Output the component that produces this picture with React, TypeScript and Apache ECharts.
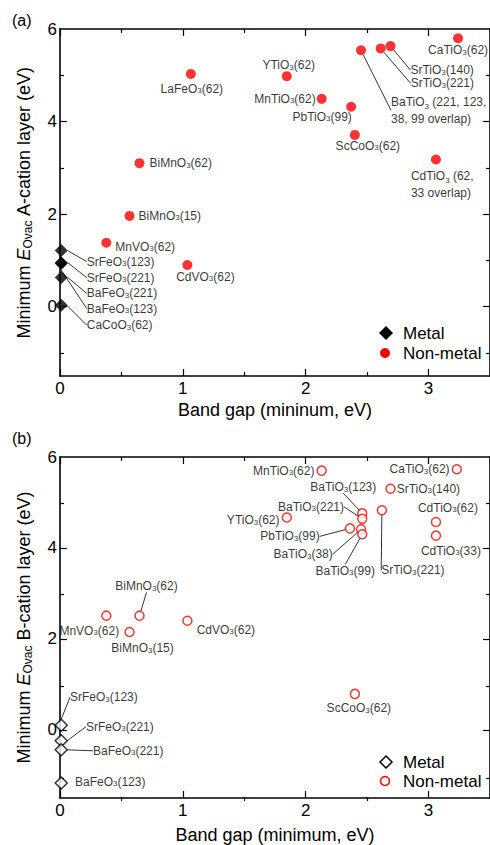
import React, { useEffect, useRef } from 'react';
import * as echarts from 'echarts';

const FONT = 'Liberation Sans, Arial, sans-serif';
const LFONT = 'Liberation Sans, Arial, sans-serif';

// ---------- Panel (a): A-cation layer ----------
const aMetalNames = ['SrFeO3(123)', 'SrFeO3(221)', 'BaFeO3(221)', 'BaFeO3(123)', 'CaCoO3(62)'];
const aMetalGap = [0.01, 0.01, 0.01, 0.01, 0.01];
const aMetalE = [1.21, 0.95, 0.63, 0.93, 0.03];

const aNonNames = [
  'LaFeO3(62)', 'BiMnO3(62)', 'BiMnO3(15)', 'MnVO3(62)', 'CdVO3(62)', 'YTiO3(62)', 'MnTiO3(62)',
  'PbTiO3(99)', 'ScCoO3(62)', 'BaTiO3 (221, 123,\n38, 99 overlap)', 'SrTiO3(221)', 'SrTiO3(140)',
  'CaTiO3(62)', 'CdTiO3 (62,\n33 overlap)',
];
const aNonGap = [1.065, 0.647, 0.566, 0.377, 1.037, 1.846, 2.13, 2.37, 2.40, 2.45, 2.61, 2.69, 3.24, 3.06];
const aNonE = [5.03, 3.10, 1.96, 1.38, 0.90, 4.98, 4.49, 4.32, 3.71, 5.54, 5.58, 5.63, 5.80, 3.18];

// ---------- Panel (b): B-cation layer ----------
const bMetalNames = ['SrFeO3(123)', 'SrFeO3(221)', 'BaFeO3(221)', 'BaFeO3(123)'];
const bMetalGap = [0.01, 0.01, 0.01, 0.01];
const bMetalE = [0.10, -0.24, -0.44, -1.17];

const bNonNames = [
  'MnTiO3(62)', 'CaTiO3(62)', 'SrTiO3(140)', 'SrTiO3(221)', 'BaTiO3(123)', 'BaTiO3(221)',
  'PbTiO3(99)', 'BaTiO3(38)', 'BaTiO3(99)', 'YTiO3(62)', 'CdTiO3(62)', 'CdTiO3(33)',
  'MnVO3(62)', 'BiMnO3(62)', 'BiMnO3(15)', 'CdVO3(62)', 'ScCoO3(62)',
];
const bNonGap = [2.13, 3.23, 2.69, 2.62, 2.46, 2.46, 2.36, 2.45, 2.46, 1.846, 3.06, 3.06, 0.377, 0.647, 0.566, 1.037, 2.40];
const bNonE = [5.70, 5.73, 5.30, 4.83, 4.76, 4.64, 4.43, 4.41, 4.30, 4.67, 4.57, 4.27, 2.51, 2.51, 2.15, 2.40, 0.79];

// Axis ticks / labels
const xMajor = [0, 1, 2, 3];
const xMinor = [0.5, 1.5, 2.5];
const xLabels = [0, 1, 2, 3];
const yMajor = [0, 2, 4];
const yMinor = [-1, 1, 3, 5];
const yLabels = [0, 2, 4, 6];

// Label placement (position, dx, dy, leader line)
type Place = [string, number, number, boolean];
const aMetalPlace: Record<string, Place> = {
  'SrFeO3(123)': ['right', 14, 11, true],
  'SrFeO3(221)': ['right', 14, 15, true],
  'BaFeO3(221)': ['right', 14, 16, true],
  'BaFeO3(123)': ['right', 14, 45, true],
  'CaCoO3(62)': ['right', 14, 20, true],
};
const aNonPlace: Record<string, Place> = {
  'LaFeO3(62)': ['bottom', 1, -1, false],
  'BiMnO3(62)': ['right', 0, 0, false],
  'BiMnO3(15)': ['right', -1, 0, false],
  'MnVO3(62)': ['right', -1, 4, false],
  'CdVO3(62)': ['bottom', 18, -4, false],
  'YTiO3(62)': ['top', 2, 5, false],
  'MnTiO3(62)': ['left', 4, 0, false],
  'PbTiO3(99)': ['bottom', -29, -6, false],
  'ScCoO3(62)': ['bottom', 13, -5, false],
  'BaTiO3 (221, 123,\n38, 99 overlap)': ['right', 20, 60, true],
  'SrTiO3(221)': ['right', 20, 35, true],
  'SrTiO3(140)': ['right', 10, 24, true],
  'CaTiO3(62)': ['bottom', 0, -4, false],
  'CdTiO3 (62,\n33 overlap)': ['right', -35, 25, false],
};
const bMetalPlace: Record<string, Place> = {
  'SrFeO3(123)': ['right', -3, -28, true],
  'SrFeO3(221)': ['right', 13, -14, true],
  'BaFeO3(221)': ['right', 20, 1, true],
  'BaFeO3(123)': ['right', 2, -1, false],
};
const bNonPlace: Record<string, Place> = {
  'MnTiO3(62)': ['left', 3, 0, false],
  'CaTiO3(62)': ['left', 3, 0, false],
  'SrTiO3(140)': ['right', -4, 0, false],
  'SrTiO3(221)': ['bottom', 31, 44, true],
  'BaTiO3(123)': ['top', -19, -10, true],
  'BaTiO3(221)': ['left', -8, -12, true],
  'PbTiO3(99)': ['left', -20, 8, true],
  'BaTiO3(38)': ['left', -18, 25, true],
  'BaTiO3(99)': ['bottom', -17, 20, true],
  'YTiO3(62)': ['left', 3, 3, false],
  'CdTiO3(62)': ['top', 12, 2, false],
  'CdTiO3(33)': ['bottom', 15, -1, false],
  'MnVO3(62)': ['bottom', -17, -1, false],
  'BiMnO3(62)': ['top', 7, -13, true],
  'BiMnO3(15)': ['bottom', 13, 0, false],
  'CdVO3(62)': ['right', -1, 9, false],
  'ScCoO3(62)': ['bottom', 4, -2, false],
};

const subName = (s: string) => s.replace(/O3/g, 'O{s|3}');

function makeSeries(
  sname: string,
  names: string[],
  xs: number[],
  ys: number[],
  places: Record<string, Place>,
  axisIdx: number,
  symbol: string,
  symbolSize: number,
  itemStyle: any,
) {
  return {
    type: 'scatter',
    name: sname,
    xAxisIndex: axisIdx,
    yAxisIndex: axisIdx,
    symbol,
    symbolSize,
    itemStyle,
    z: 5,
    emphasis: { disabled: true },
    data: names.map((n, i) => ({
      name: n,
      value: [xs[i], ys[i]],
      label: n.indexOf('\n') >= 0 ? { position: places[n][0], lineHeight: 17 } : { position: places[n][0] },
      labelLine: { show: places[n][3] },
    })),
    label: {
      show: true,
      formatter: (p: any) => subName(p.name),
      fontSize: 12,
      fontFamily: LFONT,
      color: '#000',
      lineHeight: 12,
      distance: 5,
      rich: {
        s: { fontSize: 8, fontFamily: LFONT, color: '#000', lineHeight: 7, verticalAlign: 'bottom' },
      },
    },
    labelLine: { show: false, lineStyle: { color: '#000', width: 0.8 } },
    labelLayout: (p: any) => {
      const pl = places[names[p.dataIndex]];
      return { dx: pl[1], dy: pl[2] };
    },
  };
}

const axisColor = '#000';

function xAxisDef(grid: number, position: string, main: boolean, withLabels: boolean, name?: string, nameGap?: number) {
  return {
    type: 'value',
    gridIndex: grid,
    position,
    min: 0,
    max: 3.5,
    axisLine: { show: main, onZero: false, lineStyle: { color: axisColor, width: 1.6 } },
    axisTick: {
      show: true,
      inside: true,
      length: main ? 7 : 4,
      customValues: main ? xMajor : xMinor,
      lineStyle: { color: axisColor, width: 1.2 },
    },
    axisLabel: withLabels
      ? { show: true, customValues: xLabels, fontSize: 17, color: '#000', fontFamily: FONT, margin: 4 }
      : { show: false },
    splitLine: { show: false },
    name: name || '',
    nameLocation: 'middle',
    nameGap: nameGap || 25,
    nameTextStyle: { fontSize: 18, color: '#000', fontFamily: FONT },
  };
}

function yAxisDef(grid: number, position: string, main: boolean, withLabels: boolean, name?: string) {
  return {
    type: 'value',
    gridIndex: grid,
    position,
    min: -1.5,
    max: 6,
    axisLine: { show: main, onZero: false, lineStyle: { color: axisColor, width: 1.6 } },
    axisTick: {
      show: true,
      inside: true,
      length: main ? 7 : 4,
      customValues: main ? yMajor : yMinor,
      lineStyle: { color: axisColor, width: 1.2 },
    },
    axisLabel: withLabels
      ? { show: true, customValues: yLabels, fontSize: 17, color: '#000', fontFamily: FONT, margin: 3 }
      : { show: false },
    splitLine: { show: false },
    name: name || '',
    nameLocation: 'middle',
    nameGap: 26,
    nameTextStyle: {
      fontSize: 18,
      color: '#000',
      fontFamily: FONT,
      lineHeight: 20,
      rich: {
        i: { fontSize: 18, fontStyle: 'italic', fontFamily: FONT, color: '#000', lineHeight: 20 },
        v: { fontSize: 12, fontFamily: FONT, color: '#000', lineHeight: 10, verticalAlign: 'bottom' },
      },
    },
  };
}

const legendText = (text: string, x: number, y: number) => ({
  type: 'text',
  x,
  y,
  style: { text, fontSize: 17, fontFamily: FONT, fill: '#000', verticalAlign: 'middle' },
});

export default function App() {
  const ref = useRef<HTMLDivElement>(null);
  useEffect(() => {
    if (!ref.current) return;
    const chart = echarts.init(ref.current, null, { renderer: 'svg' });
    const gA = { left: 60, top: 29, width: 434, height: 347 };
    const gB = { left: 60, top: 457, width: 434, height: 344 };
    const option: any = {
      animation: false,
      backgroundColor: '#fff',
      grid: [gA, gB, gA, gB],
      xAxis: [
        xAxisDef(0, 'bottom', true, true, 'Band gap (mininum, eV)', 25),
        xAxisDef(1, 'bottom', true, true, 'Band gap (minimum, eV)', 28),
        xAxisDef(0, 'top', true, false),
        xAxisDef(1, 'top', true, false),
        xAxisDef(2, 'bottom', false, false),
        xAxisDef(3, 'bottom', false, false),
        xAxisDef(2, 'top', false, false),
        xAxisDef(3, 'top', false, false),
      ],
      yAxis: [
        yAxisDef(0, 'left', true, true, 'Minimum {i|E}{v|Ovac} A-cation layer (eV)'),
        yAxisDef(1, 'left', true, true, 'Minimum {i|E}{v|Ovac} B-cation layer (eV)'),
        yAxisDef(0, 'right', true, false),
        yAxisDef(1, 'right', true, false),
        yAxisDef(2, 'left', false, false),
        yAxisDef(3, 'left', false, false),
        yAxisDef(2, 'right', false, false),
        yAxisDef(3, 'right', false, false),
      ],
      series: [
        makeSeries('Metal', aMetalNames, aMetalGap, aMetalE, aMetalPlace, 0, 'diamond', 13, { color: '#000' }),
        makeSeries('Non-metal', aNonNames, aNonGap, aNonE, aNonPlace, 0, 'circle', 10, { color: '#ff0000' }),
        makeSeries('Metal (b)', bMetalNames, bMetalGap, bMetalE, bMetalPlace, 1, 'diamond', 12, {
          color: '#fff', borderColor: '#000', borderWidth: 1.5,
        }),
        makeSeries('Non-metal (b)', bNonNames, bNonGap, bNonE, bNonPlace, 1, 'circle', 9, {
          color: '#fff', borderColor: '#ff0000', borderWidth: 1.5,
        }),
      ],
      graphic: [
        { type: 'text', left: 12, top: 12, style: { text: '(a)', fontSize: 16, fontFamily: FONT, fill: '#000' } },
        { type: 'text', left: 12, top: 430, style: { text: '(b)', fontSize: 16, fontFamily: FONT, fill: '#000' } },
        // legend (a)
        { type: 'polygon', shape: { points: [[386, 326], [393, 333], [386, 340], [379, 333]] }, style: { fill: '#000' } },
        { type: 'circle', shape: { cx: 385, cy: 353, r: 5 }, style: { fill: '#ff0000' } },
        legendText('Metal', 403, 333),
        legendText('Non-metal', 403, 353),
        // legend (b)
        { type: 'polygon', shape: { points: [[386, 756], [392, 762], [386, 768], [380, 762]] }, style: { fill: '#fff', stroke: '#000', lineWidth: 1.5 } },
        { type: 'circle', shape: { cx: 385, cy: 781, r: 4.5 }, style: { fill: '#fff', stroke: '#ff0000', lineWidth: 1.5 } },
        legendText('Metal', 403, 762),
        legendText('Non-metal', 403, 781),
      ],
    };
    chart.setOption(option);
    return () => chart.dispose();
  }, []);
  return <div ref={ref} style={{ position: 'absolute', left: 0, top: 0, width: 490, height: 845 }} />;
}
